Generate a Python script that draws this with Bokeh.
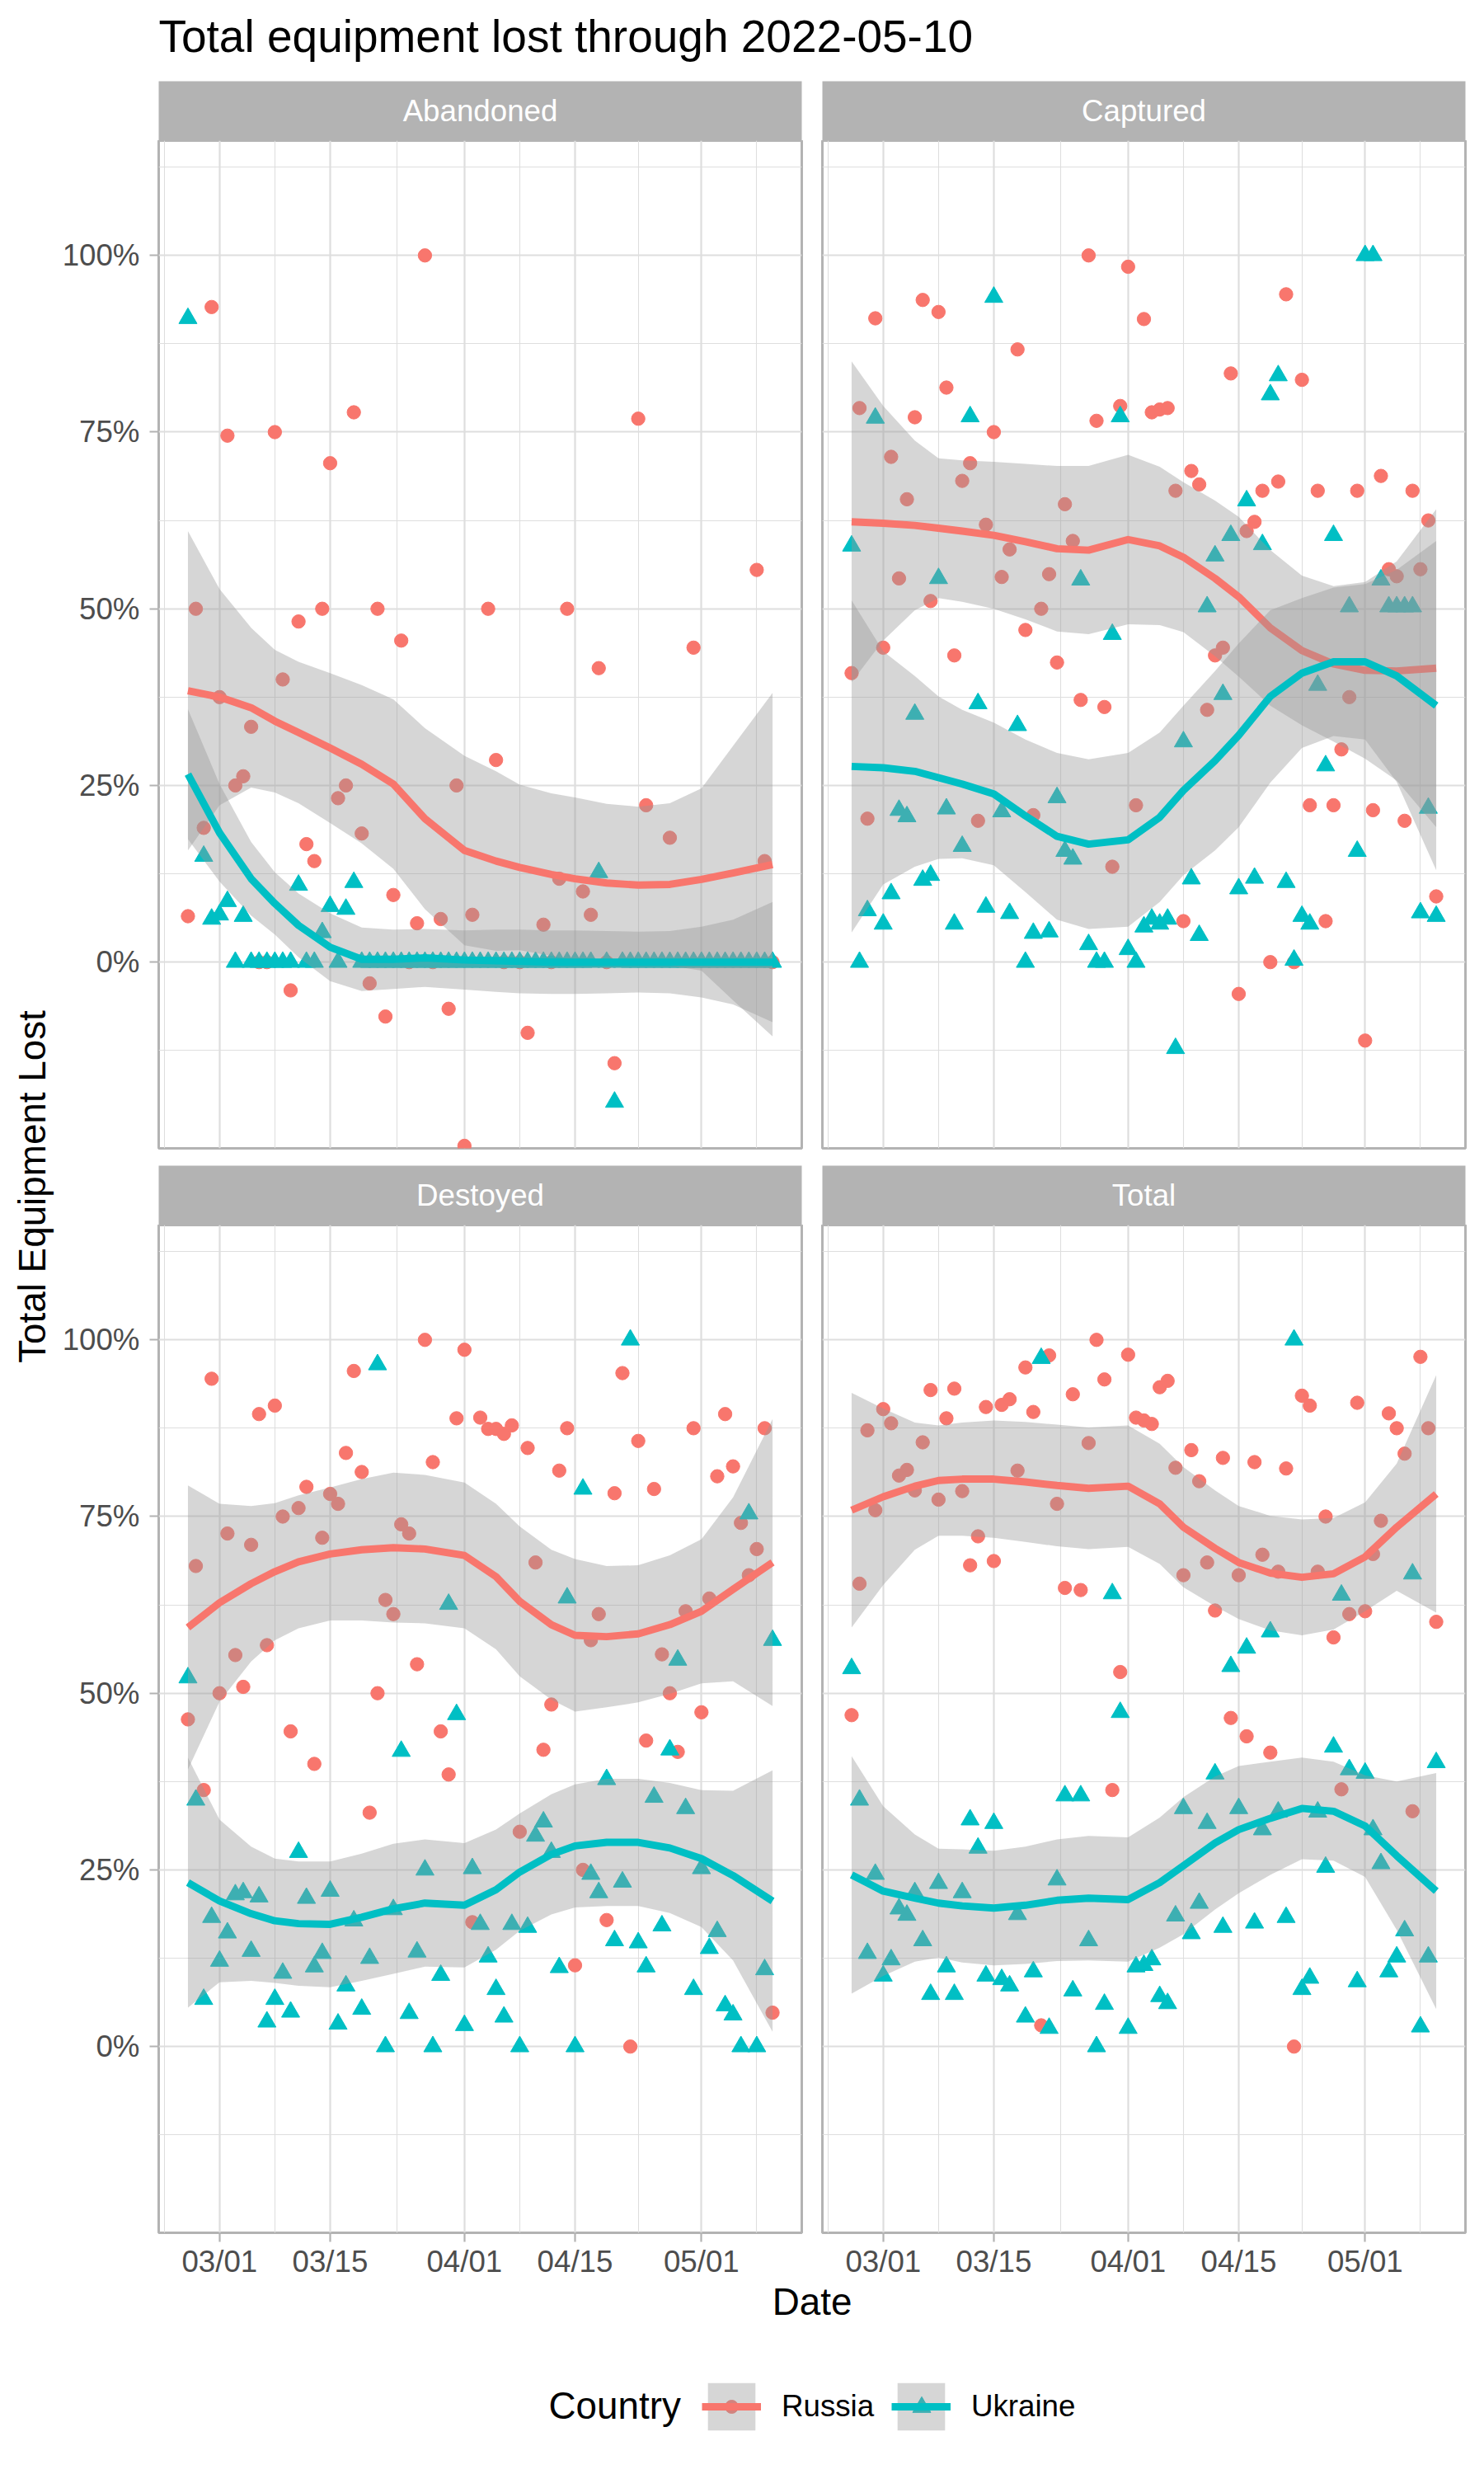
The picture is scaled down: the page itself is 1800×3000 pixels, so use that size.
import numpy as np
import pandas as pd
from bokeh.plotting import figure
from bokeh.layouts import column, row
from bokeh.models import (Range1d, FixedTicker, DatetimeTickFormatter,
                          NumeralTickFormatter, Legend, LegendItem, ColumnDataSource)
from bokeh.embed import file_html
from bokeh.resources import INLINE
from bokeh.core.properties import value

# ---------------------------------------------------------------- data
N = None
dates = pd.date_range("2022-02-25", "2022-05-10", freq="D")  # 75 daily points

abandoned_russia = [0.065, 0.5, 0.19, 0.927, 0.375, 0.745, 0.25, 0.263, 0.333, 0.0,
                    0.0, 0.75, 0.40, -0.04, 0.482, 0.167, 0.143, 0.5, 0.706, 0.232,
                    0.25, 0.778, 0.182, -0.03, 0.5, -0.077, 0.095, 0.455, 0.0, 0.055,
                    1.0, 0.0, 0.061, -0.066, 0.25, -0.26, 0.067, N, 0.5, 0.286,
                    0.0, N, 0.0, -0.10, N, 0.053, 0.0, 0.118, 0.5, N,
                    0.10, 0.067, 0.416, 0.0, -0.143, N, N, 0.769, 0.222, N,
                    N, 0.176, N, N, 0.445, N, N, N, N, N,
                    N, N, 0.555, 0.143, 0.0]
abandoned_ukraine = [0.911, N, 0.15, 0.061, 0.067, 0.086, 0.0, 0.065, 0.0, 0.0,
                     0.0, 0.0, 0.0, 0.0, 0.109, 0.0, 0.0, 0.042, 0.079, 0.0,
                     0.075, 0.113, 0.0, 0.0, 0.0, 0.0, 0.0, 0.0, 0.0, 0.0,
                     0.0, 0.0, 0.0, 0.0, 0.0, 0.0, 0.0, 0.0, 0.0, 0.0,
                     0.0, 0.0, 0.0, 0.0, 0.0, 0.0, 0.0, 0.0, 0.0, 0.0,
                     0.0, 0.0, 0.127, 0.0, -0.198, 0.0, 0.0, 0.0, 0.0, 0.0,
                     0.0, 0.0, 0.0, 0.0, 0.0, 0.0, 0.0, 0.0, 0.0, 0.0,
                     0.0, 0.0, 0.0, 0.0, 0.0]
captured_russia = [0.409, 0.784, 0.203, 0.911, 0.445, 0.715, 0.543, 0.655, 0.771, 0.937,
                   0.511, 0.92, 0.813, 0.434, 0.681, 0.706, 0.2, 0.619, 0.75, 0.545,
                   0.584, 0.867, 0.47, 0.208, 0.5, 0.549, 0.424, 0.648, 0.596, 0.371,
                   1.0, 0.766, 0.361, 0.135, 0.787, 0.984, 0.222, 0.91, 0.778, 0.782,
                   0.784, 0.667, 0.058, 0.695, 0.676, 0.357, 0.434, 0.445, 0.833, -0.045,
                   0.61, 0.623, 0.667, 0.0, 0.68, 0.945, 0.0, 0.824, 0.222, 0.667,
                   0.058, 0.222, 0.301, 0.375, 0.667, -0.111, 0.215, 0.688, 0.556, 0.546,
                   0.2, 0.667, 0.556, 0.625, 0.093]
captured_ukraine = [0.589, 0.0, 0.073, 0.77, 0.054, 0.097, 0.215, 0.206, 0.351, 0.116,
                    0.123, 0.543, 0.217, 0.054, 0.164, 0.772, 0.366, 0.078, 0.941, 0.213,
                    0.069, 0.335, 0.0, 0.041, N, 0.043, 0.233, 0.157, 0.146, 0.541,
                    0.025, 0.0, 0.0, 0.464, 0.772, 0.018, 0.0, 0.05, 0.061, 0.054,
                    0.061, -0.122, 0.312, 0.118, 0.038, 0.503, 0.575, 0.379, 0.604, 0.104,
                    0.653, 0.119, 0.591, 0.803, 0.83, 0.113, 0.003, 0.065, 0.054, 0.392,
                    0.278, 0.604, N, 0.503, 0.157, 1.0, 1.0, 0.541, 0.503, 0.503,
                    0.503, 0.503, 0.07, 0.218, 0.065]
destroyed_russia = [0.463, 0.68, 0.363, 0.945, 0.5, 0.726, 0.554, 0.509, 0.71, 0.895,
                    0.568, 0.907, 0.75, 0.446, 0.762, 0.792, 0.4, 0.72, 0.782, 0.768,
                    0.84, 0.956, 0.813, 0.331, 0.5, 0.632, 0.612, 0.739, 0.726, 0.541,
                    1.0, 0.827, 0.446, 0.385, 0.889, 0.986, 0.176, 0.89, 0.874, 0.874,
                    0.867, 0.879, 0.304, 0.847, 0.685, 0.42, 0.484, 0.815, 0.875, 0.115,
                    0.25, 0.575, 0.612, 0.179, 0.783, 0.953, 0.0, 0.857, 0.433, 0.789,
                    0.555, 0.5, 0.417, 0.616, 0.875, 0.473, 0.634, 0.807, 0.895, 0.821,
                    0.741, 0.667, 0.704, 0.875, 0.048]
destroyed_ukraine = [0.522, 0.349, 0.067, 0.183, 0.121, 0.161, 0.215, 0.218, 0.135, 0.212,
                     0.035, 0.067, 0.104, 0.049, 0.275, 0.21, 0.113, 0.132, 0.22, 0.032,
                     0.086, 0.178, 0.053, 0.125, 0.965, 0.0, 0.194, 0.418, 0.047, 0.134,
                     0.25, 0.0, 0.101, 0.626, 0.47, 0.03, 0.252, 0.173, 0.127, 0.081,
                     0.042, 0.173, 0.0, 0.169, 0.298, 0.318, 0.275, 0.112, 0.635, 0.0,
                     0.789, 0.244, 0.218, 0.378, 0.15, 0.233, 1.0, 0.147, 0.113, 0.353,
                     0.171, 0.42, 0.547, 0.337, 0.081, 0.252, 0.139, 0.163, 0.058, 0.045,
                     0.0, 0.754, 0.0, 0.109, 0.575]
total_russia = [0.469, 0.655, 0.872, 0.759, 0.902, 0.882, 0.808, 0.816, 0.787, 0.855,
                0.929, 0.774, 0.889, 0.931, 0.786, 0.681, 0.722, 0.905, 0.687, 0.908,
                0.916, 0.815, 0.961, 0.898, 0.03, 0.978, 0.768, 0.649, 0.923, 0.646,
                0.854, 1.0, 0.944, 0.363, 0.53, 0.979, 0.89, 0.886, 0.881, 0.933,
                0.942, 0.819, 0.667, 0.844, 0.8, 0.685, 0.617, 0.833, 0.465, 0.667,
                0.439, 0.827, 0.696, 0.416, 0.672, 0.818, 0.0, 0.921, 0.907, 0.672,
                0.75, 0.579, 0.364, 0.612, 0.911, 0.616, 0.697, 0.744, 0.896, 0.875,
                0.839, 0.333, 0.976, 0.875, 0.601]
total_ukraine = [0.535, 0.349, 0.132, 0.244, 0.1, 0.123, 0.195, 0.186, 0.218, 0.15,
                 0.074, 0.231, 0.113, 0.074, 0.218, 0.321, 0.281, 0.1, 0.316, 0.095,
                 0.086, 0.187, 0.042, 0.106, 0.974, 0.026, 0.236, 0.355, 0.079, 0.355,
                 0.15, 0.0, 0.06, 0.641, 0.473, 0.026, 0.113, 0.115, 0.123, 0.071,
                 0.061, 0.185, 0.337, 0.16, 0.203, 0.316, 0.386, 0.169, 0.538, 0.337,
                 0.564, 0.175, 0.307, 0.587, 0.332, 0.183, 1.0, 0.081, 0.097, 0.332,
                 0.254, 0.424, 0.639, 0.392, 0.092, 0.387, 0.307, 0.259, 0.106, 0.127,
                 0.164, 0.669, 0.028, 0.127, 0.402]

# loess smooth (fit and half-width of the 95% band)
smooth_dates = pd.to_datetime(["2022-02-25", "2022-03-01", "2022-03-05", "2022-03-08",
                               "2022-03-11", "2022-03-15", "2022-03-19", "2022-03-23",
                               "2022-03-27", "2022-04-01", "2022-04-05", "2022-04-08",
                               "2022-04-12", "2022-04-15", "2022-04-19", "2022-04-23",
                               "2022-04-27", "2022-05-01", "2022-05-05", "2022-05-10"])
abandoned_russia_fit = [0.384, 0.375, 0.36, 0.341, 0.325, 0.303, 0.28, 0.252, 0.203, 0.158,
                        0.143, 0.134, 0.124, 0.118, 0.112, 0.109, 0.11, 0.117, 0.126, 0.138]
abandoned_russia_se = [0.226, 0.153, 0.113, 0.101, 0.1, 0.106, 0.112, 0.12, 0.128, 0.134,
                       0.127, 0.117, 0.115, 0.115, 0.112, 0.111, 0.115, 0.129, 0.18, 0.243]
abandoned_ukraine_fit = [0.266, 0.183, 0.118, 0.083, 0.052, 0.021, 0.004, 0.004, 0.006, 0.003,
                         0.002, 0.001, 0.0, 0.0, 0.0, 0.0, 0.0, 0.0, 0.0, 0.0]
abandoned_ukraine_se = [0.092, 0.069, 0.052, 0.044, 0.045, 0.048, 0.045, 0.042, 0.041, 0.042,
                        0.044, 0.045, 0.045, 0.045, 0.044, 0.043, 0.044, 0.05, 0.06, 0.085]
captured_russia_fit = [0.623, 0.621, 0.618, 0.614, 0.61, 0.604, 0.595, 0.585, 0.583, 0.598,
                       0.589, 0.573, 0.543, 0.517, 0.473, 0.441, 0.422, 0.413, 0.412, 0.416]
captured_russia_se = [0.227, 0.166, 0.12, 0.099, 0.1, 0.104, 0.11, 0.117, 0.119, 0.12,
                      0.112, 0.106, 0.11, 0.113, 0.11, 0.106, 0.11, 0.125, 0.155, 0.225]
captured_ukraine_fit = [0.277, 0.275, 0.27, 0.261, 0.252, 0.238, 0.207, 0.178, 0.167, 0.173,
                        0.205, 0.243, 0.285, 0.321, 0.376, 0.409, 0.425, 0.425, 0.405, 0.363]
captured_ukraine_se = [0.235, 0.165, 0.135, 0.115, 0.105, 0.101, 0.108, 0.118, 0.12, 0.123,
                       0.12, 0.12, 0.127, 0.13, 0.122, 0.106, 0.105, 0.11, 0.15, 0.233]
destroyed_russia_fit = [0.593, 0.628, 0.655, 0.672, 0.686, 0.697, 0.703, 0.706, 0.704, 0.695,
                        0.665, 0.63, 0.597, 0.582, 0.58, 0.584, 0.597, 0.616, 0.647, 0.685]
destroyed_russia_se = [0.201, 0.14, 0.11, 0.097, 0.094, 0.094, 0.1, 0.106, 0.105, 0.103,
                       0.103, 0.106, 0.106, 0.108, 0.1, 0.097, 0.098, 0.102, 0.13, 0.203]
destroyed_ukraine_fit = [0.232, 0.206, 0.188, 0.178, 0.174, 0.173, 0.183, 0.195, 0.203, 0.2,
                         0.222, 0.247, 0.272, 0.284, 0.289, 0.289, 0.281, 0.266, 0.242, 0.206]
destroyed_ukraine_se = [0.177, 0.115, 0.095, 0.088, 0.088, 0.089, 0.09, 0.092, 0.09, 0.088,
                        0.085, 0.083, 0.085, 0.087, 0.09, 0.09, 0.092, 0.097, 0.12, 0.185]
total_russia_fit = [0.759, 0.778, 0.793, 0.801, 0.803, 0.803, 0.799, 0.794, 0.79, 0.793,
                    0.768, 0.735, 0.705, 0.685, 0.67, 0.664, 0.669, 0.693, 0.735, 0.782]
total_russia_se = [0.166, 0.125, 0.09, 0.078, 0.08, 0.083, 0.085, 0.086, 0.086, 0.086,
                   0.085, 0.085, 0.082, 0.08, 0.081, 0.082, 0.079, 0.077, 0.09, 0.168]
total_ukraine_fit = [0.243, 0.22, 0.21, 0.203, 0.199, 0.196, 0.2, 0.207, 0.21, 0.208,
                     0.232, 0.256, 0.288, 0.307, 0.323, 0.337, 0.333, 0.312, 0.27, 0.22]
total_ukraine_se = [0.168, 0.12, 0.09, 0.077, 0.08, 0.081, 0.083, 0.086, 0.088, 0.088,
                    0.092, 0.097, 0.094, 0.09, 0.08, 0.072, 0.07, 0.072, 0.105, 0.167]

facet_labels = ["Abandoned", "Captured", "Destoyed", "Total"]
countries = ["Russia", "Ukraine"]
x_tick_dates = ["2022-03-01", "2022-03-15", "2022-04-01", "2022-04-15", "2022-05-01"]
x_minor_dates = ["2022-02-22", "2022-03-08", "2022-03-23 12:00", "2022-04-08",
                 "2022-04-23", "2022-05-08"]
y_ticks = [0.0, 0.25, 0.5, 0.75, 1.0]
y_minor = [-0.125, 0.125, 0.375, 0.625, 0.875, 1.125]

# ---------------------------------------------------------------- style
FONT = "Liberation Sans"
RUS, UKR = "#F8766D", "#00BFC4"
GRID, BORDER = "#dedede", "#b3b3b3"
RIBBON = "#999999"
FRAME_W, FRAME_H = 780, 1222
YLAB_W = 68
LEFT_B, GAP_B, RIGHT_B = 124, 22, 3
STRIP_H = 72
TOP_GAP = 21
BOTTOM_B = 58
TOTAL_W = YLAB_W + LEFT_B + FRAME_W + RIGHT_B + GAP_B + FRAME_W + RIGHT_B

X0 = pd.Timestamp("2022-03-01")
X_RANGE = (X0 - pd.Timedelta(days=7.7), X0 + pd.Timedelta(days=73.7))
Y_RANGE = (-0.2635, 1.1625)


def ms(d):
    return pd.Timestamp(d).value / 1e6


def arr(v):
    return np.array([np.nan if a is None else a for a in v], dtype=float)


def make_panel(rus, ukr, rfit, rse, ufit, use, left, bottom):
    p = figure(x_axis_type="datetime", x_range=Range1d(*X_RANGE), y_range=Range1d(*Y_RANGE),
               frame_width=FRAME_W, frame_height=FRAME_H,
               min_border_left=LEFT_B if left else GAP_B, min_border_right=RIGHT_B,
               min_border_top=0, min_border_bottom=BOTTOM_B if bottom else TOP_GAP,
               output_backend="svg", toolbar_location=None)
    p.background_fill_color = "white"
    p.border_fill_color = "white"
    p.outline_line_color = BORDER
    p.outline_line_width = 3
    xt = FixedTicker(ticks=[ms(d) for d in x_tick_dates], minor_ticks=[ms(d) for d in x_minor_dates])
    yt = FixedTicker(ticks=y_ticks, minor_ticks=y_minor)
    p.xaxis.ticker = xt
    p.yaxis.ticker = yt
    p.xgrid.ticker = xt
    p.ygrid.ticker = yt
    for g in (p.xgrid[0], p.ygrid[0]):
        g.grid_line_color = GRID
        g.grid_line_width = 2.2
        g.minor_grid_line_color = GRID
        g.minor_grid_line_width = 1.1
    fmt = "%m/%d"
    p.xaxis.formatter = DatetimeTickFormatter(microseconds=fmt, milliseconds=fmt, seconds=fmt,
                                              minsec=fmt, minutes=fmt, hourmin=fmt, hours=fmt,
                                              days=fmt, months=fmt, years=fmt)
    p.yaxis.formatter = NumeralTickFormatter(format="0%")
    for ax in (p.xaxis[0], p.yaxis[0]):
        ax.axis_line_color = None
        ax.major_tick_line_color = BORDER
        ax.major_tick_line_width = 2.2
        ax.major_tick_out = 11
        ax.major_tick_in = 0
        ax.minor_tick_line_color = None
        ax.major_label_text_font = FONT
        ax.major_label_text_font_size = "36.7px"
        ax.major_label_text_color = "#4d4d4d"
    p.xaxis.major_label_text_line_height = 0.6
    p.yaxis.major_label_standoff = 12
    p.xaxis.major_label_standoff = 3
    p.xaxis.visible = bottom
    p.yaxis.visible = left

    src_r = ColumnDataSource(dict(date=dates, v=arr(rus)))
    src_u = ColumnDataSource(dict(date=dates, v=arr(ukr)))
    p.scatter("date", "v", source=src_r, marker="circle", size=16.3, color=RUS)
    p.scatter("date", "v", source=src_u, marker="triangle", size=22, color=UKR)
    for fit, se, col in ((rfit, rse, RUS), (ufit, use, UKR)):
        f = np.array(fit)
        s = np.array(se)
        p.varea(x=smooth_dates, y1=f - s, y2=f + s, fill_color=RIBBON, fill_alpha=0.4)
        p.line(x=smooth_dates, y=f, line_color=col, line_width=8.9, line_join="round")
    return p


def blank(w, h):
    f = figure(x_range=Range1d(0, w), y_range=Range1d(0, h), width=w, height=h, min_border=0,
               x_axis_location=None, y_axis_location=None,
               output_backend="svg", toolbar_location=None)
    f.grid.visible = False
    f.outline_line_color = None
    f.background_fill_color = "white"
    f.border_fill_color = "white"
    return f


def put_text(fig, x, y, txt, size, color="black", align="left", angle=0.0):
    # y is the vertical centre of the capital letters
    fig.text(x=[x], y=[y], text=[txt], angle=angle, text_align=align, text_baseline="middle",
             text_font=value(FONT), text_font_size=size, text_color=color)


def make_strip(label, left):
    s = figure(x_range=Range1d(0, FRAME_W), y_range=Range1d(0, STRIP_H),
               frame_width=FRAME_W, frame_height=STRIP_H,
               min_border_left=LEFT_B if left else GAP_B, min_border_right=RIGHT_B,
               min_border_top=0, min_border_bottom=0,
               x_axis_location=None, y_axis_location=None,
               output_backend="svg", toolbar_location=None)
    s.grid.visible = False
    s.outline_line_color = None
    s.background_fill_color = BORDER
    s.border_fill_color = "white"
    put_text(s, FRAME_W / 2, STRIP_H - 35.6, label, "36.7px", color="white", align="center")
    return s


series = [
    (abandoned_russia, abandoned_ukraine, abandoned_russia_fit, abandoned_russia_se,
     abandoned_ukraine_fit, abandoned_ukraine_se),
    (captured_russia, captured_ukraine, captured_russia_fit, captured_russia_se,
     captured_ukraine_fit, captured_ukraine_se),
    (destroyed_russia, destroyed_ukraine, destroyed_russia_fit, destroyed_russia_se,
     destroyed_ukraine_fit, destroyed_ukraine_se),
    (total_russia, total_ukraine, total_russia_fit, total_russia_se,
     total_ukraine_fit, total_ukraine_se),
]

panels = []
strips = []
for i, s in enumerate(series):
    left = (i % 2 == 0)
    bottom = (i >= 2)
    panels.append(make_panel(*s, left=left, bottom=bottom))
    strips.append(make_strip(facet_labels[i], left))

grid_col = column(row(strips[0], strips[1]), row(panels[0], panels[1]),
                  row(strips[2], strips[3]), row(panels[2], panels[3]))

GRID_H = STRIP_H + FRAME_H + TOP_GAP + STRIP_H + FRAME_H + BOTTOM_B

# title
TITLE_H = 98
title_fig = blank(TOTAL_W, TITLE_H)
put_text(title_fig, LEFT_B + YLAB_W, TITLE_H - 43.3, "Total equipment lost through 2022-05-10", "55px")

# y axis title (reading upwards)
ylab_fig = blank(YLAB_W, GRID_H)
ycenter = GRID_H - (STRIP_H + (STRIP_H + FRAME_H + TOP_GAP + STRIP_H + FRAME_H)) / 2
put_text(ylab_fig, 38.5, ycenter, "Total Equipment Lost", "45.8px", align="center", angle=np.pi / 2)

# footer: x title + legend (footer starts 58 px below the panels)
FOOT_H = 223
foot = blank(TOTAL_W, FOOT_H)
put_text(foot, YLAB_W + LEFT_B + (FRAME_W * 2 + RIGHT_B + GAP_B) / 2, FOOT_H - 25.6, "Date", "45.8px",
         align="center")
put_text(foot, 665, FOOT_H - 151.6, "Country", "45.8px")

# legend key renderers: one point placed outside the visible range so only the keys show
off = ColumnDataSource(dict(x=[-1e4], y=[-1e4], y1=[-1e4], y2=[-1e4]))
key_r = {}
for name, col, marker in (("Russia", RUS, "circle"), ("Ukraine", UKR, "triangle")):
    sc = foot.scatter("x", "y", source=off, marker=marker, size=16, color=col)
    va = foot.varea(x="x", y1="y1", y2="y2", source=off, fill_color=RIBBON, fill_alpha=0.4)
    ln = foot.line("x", "y", source=off, line_color=col, line_width=8.9)
    key_r[name] = (sc, va, ln)

common = dict(orientation="horizontal", padding=0, margin=0, border_line_color=None,
              background_fill_alpha=0, label_text_font=FONT)
KEY_X, KEY_TOP, KEY = 851, 117, 72
ITEM_W = KEY + 25 + 120 + 13
# point keys (drawn first, under the ribbon fill, as in the reference)
leg_pt_r = Legend(items=[LegendItem(label=" ", renderers=[key_r["Russia"][0]])],
                  location=(KEY_X + KEY / 2 - 20, FOOT_H - (KEY_TOP + KEY / 2 + 20)),
                  glyph_width=40, glyph_height=40, label_width=0,
                  label_height=0, label_standoff=0, label_text_font_size="1px", **common)
leg_pt_u = Legend(items=[LegendItem(label=" ", renderers=[key_r["Ukraine"][0]])],
                  location=(KEY_X + ITEM_W + KEY / 2 - 27.5, FOOT_H - (KEY_TOP + KEY / 2 + 27.5)),
                  glyph_width=55, glyph_height=55, label_width=0,
                  label_height=0, label_standoff=0, label_text_font_size="1px", **common)
leg_main = Legend(items=[LegendItem(label=c, renderers=[key_r[c][1], key_r[c][2]]) for c in countries],
                  location=(KEY_X, FOOT_H - KEY_TOP - KEY), glyph_width=KEY, glyph_height=KEY,
                  label_width=120, label_height=KEY, label_standoff=25, spacing=13,
                  label_text_font_size="36.7px", label_text_color="black", **common)
foot.add_layout(leg_pt_r)
foot.add_layout(leg_pt_u)
foot.add_layout(leg_main)

page = column(title_fig, row(ylab_fig, grid_col), foot)

with open("out.html", "w") as fh:
    fh.write(file_html(page, INLINE, title="Total equipment lost"))
